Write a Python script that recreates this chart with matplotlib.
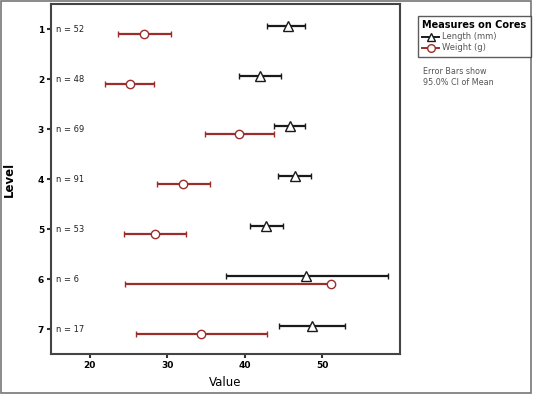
import numpy as np
import matplotlib.pyplot as plt
from matplotlib.lines import Line2D
from matplotlib.patches import Rectangle

levels = [1, 2, 3, 4, 5, 6, 7]
n_labels = ['n = 52', 'n = 48', 'n = 69', 'n = 91', 'n = 53', 'n = 6', 'n = 17']

length_mean = [45.5, 41.9, 45.8, 46.4, 42.7, 47.9, 48.6]
length_lo = [42.9, 39.2, 43.7, 44.3, 40.7, 37.5, 44.4]
length_hi = [47.8, 44.6, 47.7, 48.5, 44.9, 58.4, 52.9]

weight_mean = [27.0, 25.2, 39.3, 32.0, 28.4, 51.1, 34.3]
weight_lo = [23.7, 22.0, 34.8, 28.7, 24.4, 24.6, 25.9]
weight_hi = [30.5, 28.3, 43.7, 35.5, 32.4, 51.1, 42.8]  # level 6 upper bound off the chart

red = '#9a2e2b'
dark = '#1a1a1a'

fig = plt.figure(figsize=(5.33, 3.94), dpi=100)
ax = fig.add_axes([0.0957, 0.1015, 0.6548, 0.8883])

y = np.array(levels, dtype=float)
lm = np.array(length_mean)
wm = np.array(weight_mean)

ax.errorbar(lm, y - 0.06, xerr=[lm - np.array(length_lo), np.array(length_hi) - lm],
            fmt='^', color=dark, mfc='white', mec=dark, ms=6.5, mew=1,
            ecolor=dark, elinewidth=1.6, capsize=2.5, capthick=1.6, zorder=3)
ax.errorbar(wm, y + 0.1, xerr=[wm - np.array(weight_lo), np.array(weight_hi) - wm],
            fmt='o', color=red, mfc='white', mec=red, ms=6, mew=1,
            ecolor=red, elinewidth=1.6, capsize=2.5, capthick=1.6, zorder=3)

for lv, lab in zip(levels, n_labels):
    ax.text(15.6, lv, lab, fontsize=6, va='center', ha='left', color='#222222')

ax.set_xlim(15, 60)
ax.set_ylim(7.5, 0.5)
ax.set_xticks([20, 30, 40, 50])
ax.set_yticks(levels)
ax.tick_params(axis='both', labelsize=6.5, width=1.5, length=3, color='#333333', pad=2)
for t in ax.get_xticklabels() + ax.get_yticklabels():
    t.set_fontweight('bold')
for s in ax.spines.values():
    s.set_linewidth(1.5)
    s.set_color('#444444')
ax.set_xlabel('Value', fontsize=8.5, labelpad=4)
ax.set_ylabel('Level', fontsize=8.5, fontweight='bold')
ax.yaxis.set_label_coords(-0.10, 0.5)

handles = [
    Line2D([], [], color=dark, lw=1.4, marker='^', mfc='white', mec=dark, ms=5.5),
    Line2D([], [], color=red, lw=1.4, marker='o', mfc='white', mec=red, ms=5.5),
]
leg = fig.legend(handles, ['Length (mm)', 'Weight (g)'], loc='upper left',
                 bbox_to_anchor=(414 / 533, 1 - 12 / 394), fontsize=6,
                 title='Measures on Cores', title_fontproperties={'weight': 'bold', 'size': 7},
                 fancybox=False, edgecolor='#333333', handlelength=2.0, handletextpad=0.3,
                 borderpad=0.5, labelspacing=0.25, alignment='left')
leg.get_frame().set_linewidth(1.0)
for t in leg.get_texts():
    t.set_color('#555555')

fig.text(423 / 533, 1 - 77 / 394, 'Error Bars show\n95.0% CI of Mean', fontsize=5.8,
         color='#555555', va='center', ha='left', linespacing=1.4)

fig.patches.append(Rectangle((0.002, 0.003), 0.995, 0.994, transform=fig.transFigure,
                             fill=False, edgecolor='#777777', lw=1.2))

fig.savefig('out.png', dpi=100)
